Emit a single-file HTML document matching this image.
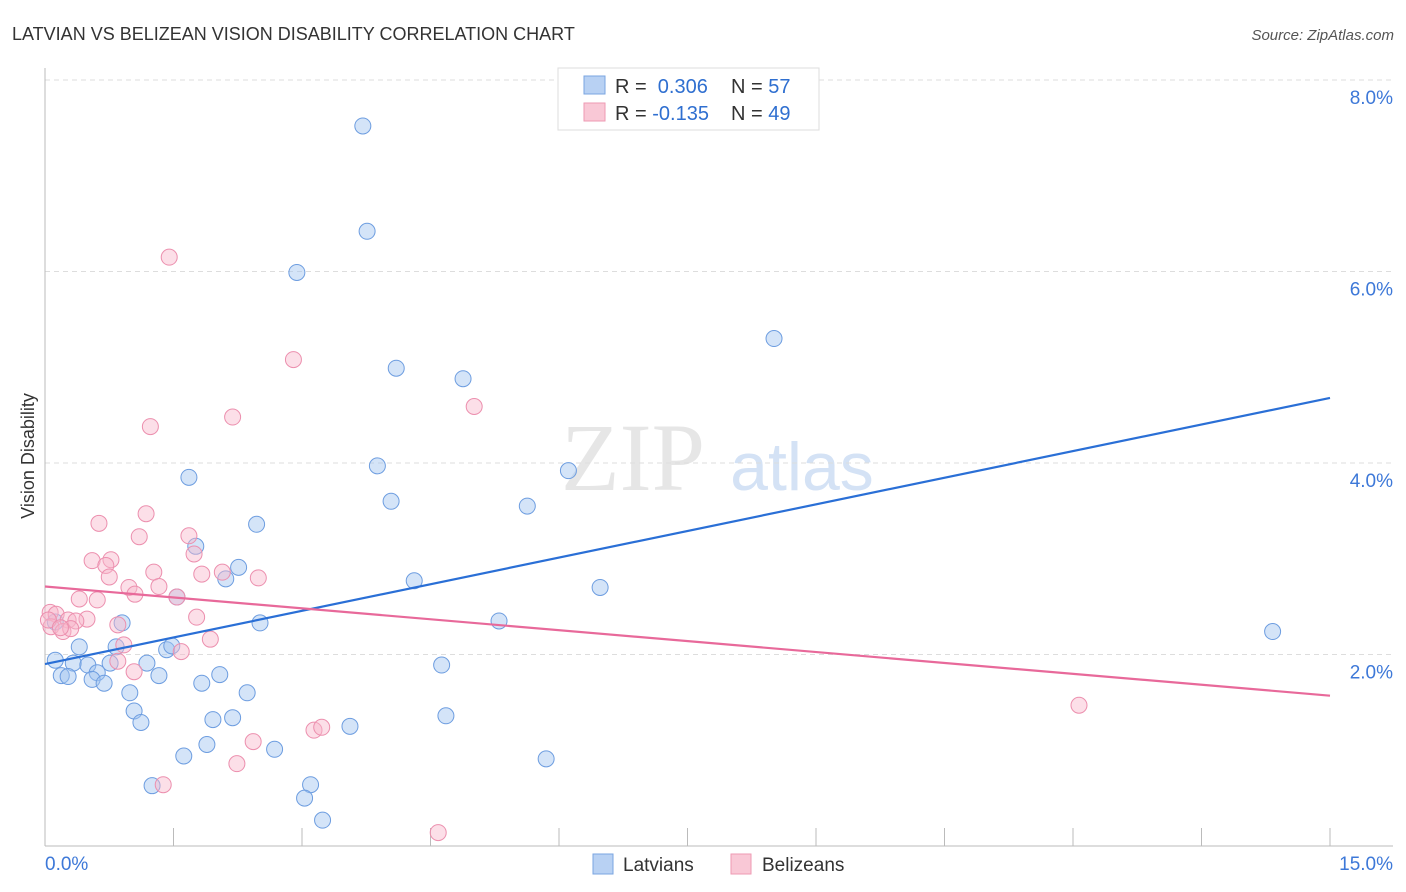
<!DOCTYPE html>
<html><head><meta charset="utf-8"><style>
body{margin:0;background:#fff;font-family:"Liberation Sans",sans-serif}
svg{display:block}
</style></head><body>
<svg id="c" width="1406" height="892">
<text x="12" y="40" font-size="18" fill="#333">LATVIAN VS BELIZEAN VISION DISABILITY CORRELATION CHART</text>
<text x="1394" y="40" font-size="15" fill="#555" font-style="italic" text-anchor="end">Source: ZipAtlas.com</text>
<text x="633" y="490" font-size="96" fill="#e6e6e6" font-family="Liberation Serif" text-anchor="middle">ZIP</text>
<text x="802" y="490" font-size="68" fill="#d4e2f5" text-anchor="middle">atlas</text>
<text x="34" y="456" font-size="18" fill="#333" text-anchor="middle" transform="rotate(-90 34 456)">Vision Disability</text>
<g id="grid"></g><g id="pts"></g><g id="lines"></g>
<g>
<rect x="558" y="68" width="261" height="62" fill="#fff" stroke="#ddd"/>
<rect x="584" y="76" width="21" height="18" fill="#b8d1f3" stroke="#7aa5e0"/>
<rect x="584" y="103" width="21" height="18" fill="#f9c8d6" stroke="#ee9ab3"/>
<text x="615" y="93" font-size="20" fill="#333">R = <tspan fill="#2f6fd0">&#160;0.306</tspan><tspan x="731">N = </tspan><tspan fill="#2f6fd0">57</tspan></text>
<text x="615" y="120" font-size="20" fill="#333">R = <tspan fill="#2f6fd0">-0.135</tspan><tspan x="731">N = </tspan><tspan fill="#2f6fd0">49</tspan></text>
</g>
<g>
<rect x="593" y="854" width="20" height="20" fill="#b8d1f3" stroke="#7aa5e0"/>
<text x="623" y="871" font-size="19" fill="#333">Latvians</text>
<rect x="731" y="854" width="20" height="20" fill="#f9c8d6" stroke="#ee9ab3"/>
<text x="762" y="871" font-size="19" fill="#333">Belizeans</text>
</g>
</svg>
<script>
const yTicks=[2,4,6,8];
const xTickLabels=["0.0%","15.0%"];
const latX=[3.71,3.76,2.94,8.51,4.10,4.88,3.88,6.11,1.68,4.04,5.63,2.47,1.76,2.26,2.11,4.31,6.48,1.54,0.9,2.51,5.3,14.33,0.12,0.4,0.83,1.42,1.48,0.12,0.76,1.19,0.33,0.5,0.19,0.27,0.61,0.55,0.69,1.33,2.04,1.83,4.63,0.99,2.36,1.04,1.12,1.96,2.19,3.56,4.68,1.89,1.62,2.68,5.85,1.25,3.1,3.03,3.24];
const latY=[7.52,6.42,5.99,5.3,4.99,4.88,3.97,3.92,3.85,3.6,3.55,3.36,3.13,2.91,2.79,2.77,2.7,2.6,2.33,2.33,2.35,2.24,2.34,2.08,2.08,2.05,2.09,1.94,1.91,1.91,1.91,1.89,1.78,1.77,1.81,1.74,1.7,1.78,1.79,1.7,1.89,1.6,1.6,1.41,1.29,1.32,1.34,1.25,1.36,1.06,0.94,1.01,0.91,0.63,0.64,0.5,0.27];
const belX=[1.45,2.9,2.19,5.01,1.23,1.18,0.63,1.1,1.68,0.77,0.55,1.74,0.71,0.75,1.27,1.83,2.07,2.49,0.98,1.33,1.05,0.61,0.4,1.54,0.06,0.13,0.27,0.49,0.36,1.77,0.85,0.07,0.21,0.3,0.92,1.59,1.93,0.85,1.04,2.43,2.24,3.14,3.23,12.07,1.38,4.59,0.04,0.18];
const belY=[6.15,5.08,4.48,4.59,4.38,3.47,3.37,3.23,3.24,2.99,2.98,3.05,2.93,2.81,2.86,2.84,2.86,2.8,2.7,2.71,2.63,2.57,2.58,2.6,2.44,2.42,2.36,2.37,2.35,2.39,2.31,2.29,2.24,2.27,2.1,2.03,2.16,1.93,1.82,1.09,0.86,1.21,1.24,1.47,0.64,0.14,2.36,2.28];
const latLine=[1.9,4.68], belLine=[2.71,1.57];
const NS="http://www.w3.org/2000/svg";
const xs=v=>45+v/15*1285, ys=v=>846-v*95.75;
function mk(t,a,p){const e=document.createElementNS(NS,t);for(const k in a)e.setAttribute(k,a[k]);p.appendChild(e);return e;}
const g=document.getElementById('grid');
yTicks.forEach(t=>{
 const l=mk('line',{x1:45,x2:1393,y1:ys(t),y2:ys(t),stroke:'#ddd','stroke-dasharray':'5,4'},g);
 
 
 const tx=mk('text',{x:1393,y:ys(t)+24,'font-size':19,fill:'#3d78d8','text-anchor':'end'},g);tx.textContent=t.toFixed(1)+'%';
 
 
});
mk('line',{x1:45,x2:45,y1:68,y2:846,stroke:'#bbb'},g);
mk('line',{x1:45,x2:1393,y1:846,y2:846,stroke:'#bbb'},g);
for(let i=0;i<=10;i++){const x=xs(i*1.5);mk('line',{x1:x,x2:x,y1:828,y2:846,stroke:'#bbb'},g);}
const t0=mk('text',{x:45,y:870,'font-size':19,fill:'#3d78d8'},g);t0.textContent=xTickLabels[0];


const t1=mk('text',{x:1393,y:870,'font-size':19,fill:'#3d78d8','text-anchor':'end'},g);t1.textContent=xTickLabels[1];


const P=document.getElementById('pts');
latX.forEach((x,i)=>{const c=mk('circle',{cx:xs(x),cy:ys(latY[i]),r:8,fill:'rgba(160,195,240,0.45)',stroke:'#6d9de0','stroke-width':1},P);
 
 });
belX.forEach((x,i)=>{const c=mk('circle',{cx:xs(x),cy:ys(belY[i]),r:8,fill:'rgba(248,185,205,0.45)',stroke:'#ec8fae','stroke-width':1},P);
 
 });
const L=document.getElementById('lines');
const a=mk('line',{x1:xs(0),y1:ys(latLine[0]),x2:xs(15),y2:ys(latLine[1]),stroke:'#2a6fd6','stroke-width':2.2},L);


const b=mk('line',{x1:xs(0),y1:ys(belLine[0]),x2:xs(15),y2:ys(belLine[1]),stroke:'#e8699a','stroke-width':2.2},L);


</script>
</body></html>
